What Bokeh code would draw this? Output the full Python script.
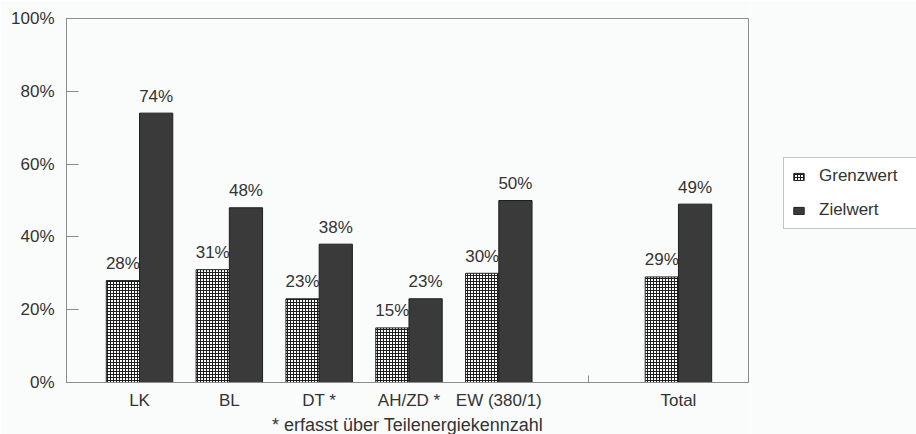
from bokeh.plotting import figure
from bokeh.layouts import row
from bokeh.models import FixedTicker, ColumnDataSource, Legend, LegendItem, Range1d, Title
from bokeh.embed import file_html
from bokeh.resources import INLINE
from bokeh.core.properties import value

# ---- data ----
categories = ["LK", "BL", "DT *", "AH/ZD *", "EW (380/1)", "Total"]
positions = [1, 2, 3, 4, 5, 7]
empty_slot = [6]
grenzwert = [28, 31, 23, 15, 30, 29]
zielwert = [74, 48, 38, 23, 50, 49]
y_ticks = [0, 20, 40, 60, 80, 100]
y_tick_labels = ["0%", "20%", "40%", "60%", "80%", "100%"]
series_names = ["Grenzwert", "Zielwert"]
footnote = "* erfasst über Teilenergiekennzahl"

FONT = value("Liberation Sans")
TXT = "#333333"
BG = "#fafbfb"
FS = "17px"
half = 0.185

GREN_STYLE = dict(fill_color="white", hatch_pattern="+", hatch_color="#1e1e1e",
                  hatch_scale=3, hatch_weight=1, line_color="#222222", line_width=1)
ZIEL_STYLE = dict(fill_color="#3a3a3a", line_color="#1e1e1e", line_width=1)

src = ColumnDataSource(dict(
    pos=positions,
    g=grenzwert,
    z=zielwert,
    g_x=[p - half for p in positions],
    z_x=[p + half for p in positions],
    g_lab=[f"{v}%" for v in grenzwert],
    z_lab=[f"{v}%" for v in zielwert],
))

p = figure(width=750, height=434, output_backend="svg", toolbar_location=None,
           x_range=Range1d(0.187, 7.78), y_range=Range1d(0, 100),
           min_border_left=66, min_border_right=2, min_border_top=18, min_border_bottom=51)
p.background_fill_color = BG
p.border_fill_color = BG
p.outline_line_color = "#8c8c8c"
p.grid.visible = False

p.vbar(x="g_x", top="g", width=0.37, source=src, **GREN_STYLE)
p.vbar(x="z_x", top="z", width=0.37, source=src, **ZIEL_STYLE)

p.text(x="g_x", y="g", text="g_lab", source=src, text_align="center", text_baseline="alphabetic",
       y_offset=-17, text_font=FONT, text_font_size=FS, text_color=TXT)
p.text(x="z_x", y="z", text="z_lab", source=src, text_align="center", text_baseline="alphabetic",
       y_offset=-17, text_font=FONT, text_font_size=FS, text_color=TXT)

# y axis
ya = p.yaxis[0]
ya.ticker = FixedTicker(ticks=y_ticks)
ya.major_label_overrides = {t: l for t, l in zip(y_ticks, y_tick_labels)}
ya.major_tick_in = 12
ya.major_tick_out = 0
ya.minor_tick_in = 0
ya.minor_tick_out = 0
ya.major_label_standoff = 12
ya.axis_line_color = "#8c8c8c"
ya.major_tick_line_color = "#8c8c8c"
ya.major_label_text_font = "Liberation Sans"
ya.major_label_text_font_size = FS
ya.major_label_text_color = TXT

# x axis
xa = p.xaxis[0]
xa.ticker = FixedTicker(ticks=positions, minor_ticks=empty_slot)
xa.major_label_overrides = {p_: c for p_, c in zip(positions, categories)}
xa.major_tick_in = 0
xa.major_tick_out = 0
xa.minor_tick_in = 7
xa.minor_tick_out = 0
xa.minor_tick_line_color = "#8c8c8c"
xa.major_label_standoff = 8
xa.axis_line_color = "#8c8c8c"
xa.major_label_text_font = "Liberation Sans"
xa.major_label_text_font_size = FS
xa.major_label_text_color = TXT

p.add_layout(Title(text=footnote, align="center", standoff=0,
                   text_font="Liberation Sans", text_font_size="18px", text_font_style="normal",
                   text_color=TXT), "below")

# ---- legend panel (renderers kept out of its visible range) ----
q = figure(width=166, height=434, output_backend="svg", toolbar_location=None,
           x_range=Range1d(-3, -2), y_range=Range1d(0, 1),
           x_axis_location=None, y_axis_location=None,
           min_border_left=0, min_border_right=0, min_border_top=0, min_border_bottom=0)
q.background_fill_color = BG
q.border_fill_color = BG
q.outline_line_color = None
q.grid.visible = False
lg = q.vbar(x="g_x", top="g", width=0.37, source=src, **GREN_STYLE)
lz = q.vbar(x="z_x", top="z", width=0.37, source=src, **ZIEL_STYLE)

legend = Legend(items=[LegendItem(label=series_names[0], renderers=[lg]),
                       LegendItem(label=series_names[1], renderers=[lz])],
                location=(33, 153), orientation="vertical",
                label_text_font="Liberation Sans", label_text_font_size=FS,
                label_text_color=TXT, glyph_width=13, glyph_height=9,
                spacing=14, padding=8, margin=0, label_standoff=14,
                label_width=110, label_height=18,
                border_line_color="#8c8c8c", background_fill_color="white",
                background_fill_alpha=1.0)
q.add_layout(legend, "center")

layout = row(p, q, spacing=0)
open("out.html", "w").write(file_html(layout, INLINE))
